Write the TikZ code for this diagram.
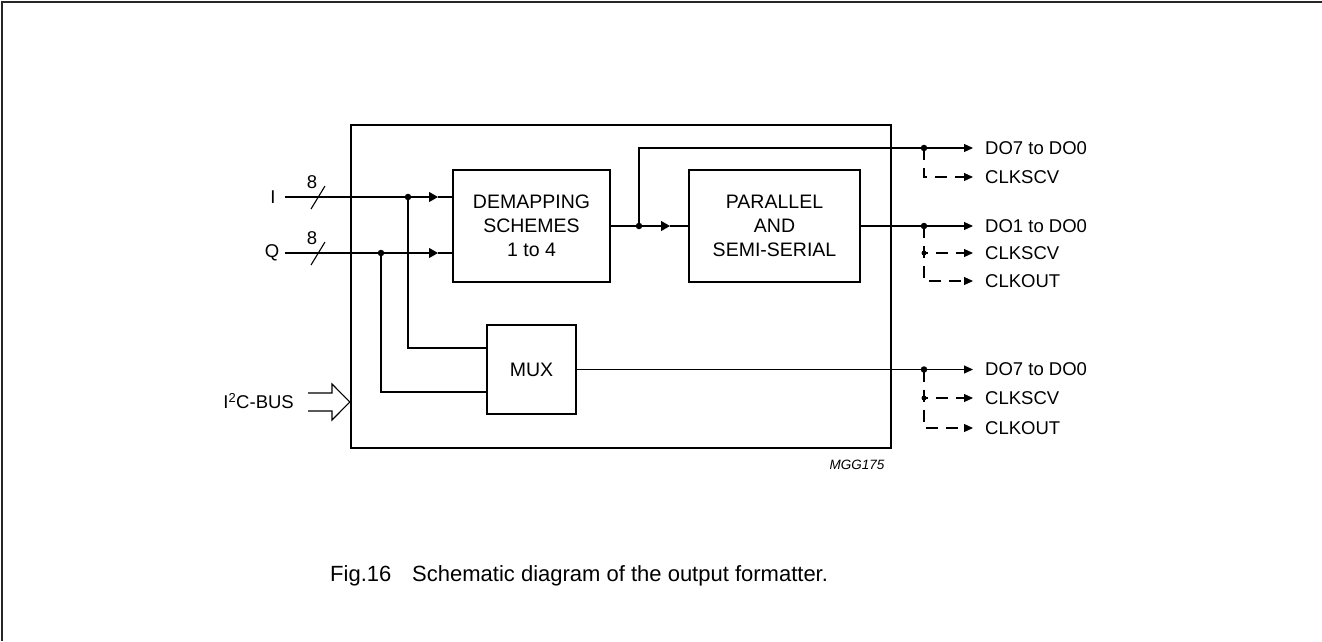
\documentclass[tikz,border=0pt]{standalone}
\usepackage{fontspec}
\setmainfont{Liberation Sans}
\usetikzlibrary{arrows.meta, positioning}

\begin{document}
\begin{tikzpicture}[x=1pt, y=-1pt,
    blk/.style={draw, line width=2.2pt, inner sep=0pt, align=center,
      font=\fontsize{19.5}{24}\selectfont},
    lbl/.style={inner sep=0pt, font=\fontsize{18.5}{22}\selectfont},
    wire/.style={line width=1.1pt},
    flow/.style={wire, -{Triangle[length=9pt,width=10pt]}},
    outp/.style={wire, -{Triangle[length=9pt,width=8pt]}},
    clk/.style={outp, dash pattern=on 12pt off 8pt},
    jn/.style={circle, fill, inner sep=0pt, minimum size=6.5pt}
  ]
  \useasboundingbox (0,0) rectangle (1322,641);
  \draw[line width=2pt, black!85] (2,641) -- (2,2) -- (1322,2);

  % chip and blocks
  \node[blk, minimum width=540pt, minimum height=323pt] (chip) at (621,286.5) {};
  \node[blk, minimum width=157pt, minimum height=112pt] (demap) at (531.5,226)
    {DEMAPPING\\SCHEMES\\1 to 4};
  \node[blk, minimum width=171pt, minimum height=112pt] (para) at (774.5,226)
    {PARALLEL\\AND\\SEMI-SERIAL};
  \node[blk, minimum width=89pt, minimum height=89pt] (mux) at (531.5,369.5) {MUX};

  % inputs
  \node[lbl] (ilab) at (273,197) {I};
  \node[lbl] (qlab) at (272,253) {Q};
  \coordinate (iin) at (285,197);
  \coordinate (qin) at (285,253);
  \coordinate (itip) at (438,197);
  \coordinate (qtip) at (438,253);
  \node[jn] (idot) at (408,197) {};
  \node[jn] (qdot) at (381,253) {};

  \draw[flow] (iin) -- (itip);
  \draw[wire] (itip) -- (demap.west |- itip);
  \draw[flow] (qin) -- (qtip);
  \draw[wire] (qtip) -- (demap.west |- qtip);

  \draw[wire] (311,209) -- (325,186);
  \node[lbl] (ibus) at (312,182) {8};
  \draw[wire] (311,265) -- (325,242);
  \node[lbl] (qbus) at (312,238) {8};

  \draw[wire] (idot.center) |- ([yshift=21.5pt]mux.west);
  \draw[wire] (qdot.center) |- ([yshift=-22.5pt]mux.west);

  % demapping to parallel
  \node[jn] (ddot) at (639,226) {};
  \coordinate (dtip) at (670,226);
  \draw[wire] (demap.east) -- (ddot);
  \draw[flow] (ddot.center) -- (dtip);
  \draw[wire] (dtip) -- (para.west);

  % outputs
  \node[lbl, anchor=west] (o1) at (985,148) {DO7 to DO0};
  \node[lbl, anchor=west] (o1c) at (985,177) {CLKSCV};
  \node[lbl, anchor=west] (o2) at (985,226) {DO1 to DO0};
  \node[lbl, anchor=west] (o2c) at (985,253) {CLKSCV};
  \node[lbl, anchor=west] (o2o) at (985,281) {CLKOUT};
  \node[lbl, anchor=west] (o3) at (985,369.5) {DO7 to DO0};
  \node[lbl, anchor=west] (o3c) at (985,398) {CLKSCV};
  \node[lbl, anchor=west] (o3o) at (985,428) {CLKOUT};

  \node[jn] (j1) at (924,148) {};
  \node[jn] (j2) at (924,226) {};
  \node[jn] (j3) at (924,369.5) {};
  \node[jn, minimum size=5pt] (j2c) at (924,253) {};
  \node[jn, minimum size=5pt] (j3c) at (924,398) {};

  \draw[outp] (ddot.center) |- (j1.center) -- ([xshift=-12pt]o1.west);
  \draw[clk] (j1.center) |- ([xshift=-12pt]o1c.west);

  \draw[outp] (para.east) -- ([xshift=-12pt]o2.west);
  \draw[clk] (j2.center) |- ([xshift=-12pt]o2o.west);
  \draw[clk, dash phase=8pt] (j2c.center) -- ([xshift=-12pt]o2c.west);

  \draw[outp] (mux.east) -- ([xshift=-12pt]o3.west);
  \draw[clk] (j3.center) |- ([xshift=-12pt]o3o.west);
  \draw[clk, dash phase=8pt] (j3c.center) -- ([xshift=-12pt]o3c.west);

  % serial bus
  \node[lbl, anchor=east] (i2c) at (294,401) {I\textsuperscript{2}C-BUS};
  \draw[wire] (308,393) -- (332,393) -- (332,384) -- (chip.west |- 0,402)
    -- (332,420) -- (332,411) -- (308,411);

  \node[inner sep=0pt, font=\itshape\fontsize{13.5}{15}\selectfont] (code) at (857,465) {MGG175};
  \node[lbl, anchor=west, font=\fontsize{22}{26}\selectfont] (cap) at (330,576)
    {Fig.16\hspace{0.95em}Schematic diagram of the output formatter.};
\end{tikzpicture}
\end{document}
